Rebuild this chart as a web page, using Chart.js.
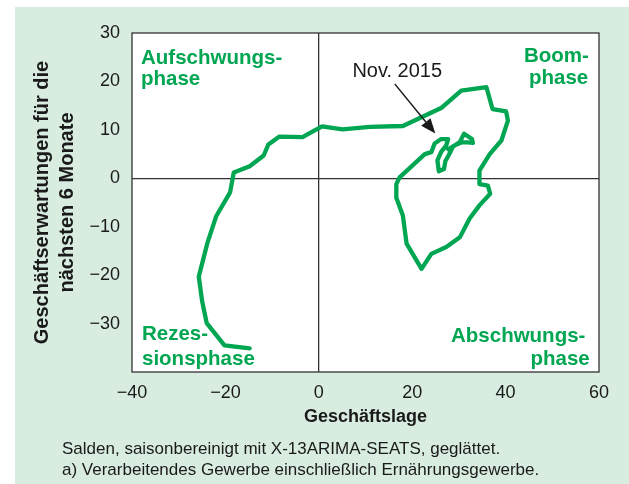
<!DOCTYPE html>
<html>
<head>
<meta charset="utf-8">
<script src="https://cdn.jsdelivr.net/npm/chart.js@4"></script>
<style>
  html, body { margin: 0; padding: 0; background: #ffffff; }
  #wrap { position: relative; width: 629px; height: 484px; overflow: hidden; }
  #panel { position: absolute; left: 15px; top: 7px; width: 614px; height: 477px; background: #d8ece0; }
  #c { position: absolute; left: 0; top: 0; }
  .note { position: absolute; left: 62px; font-family: "Liberation Sans", Arial, sans-serif; font-size: 17px; line-height: 21px; color: #1a1a1a; white-space: nowrap; }
</style>
</head>
<body>
<div id="wrap">
  <div id="panel"></div>
  <canvas id="c" width="629" height="484"></canvas>
  <div class="note" style="top:438px">Salden, saisonbereinigt mit X-13ARIMA-SEATS, geglättet.</div>
  <div class="note" style="top:459px">a) Verarbeitendes Gewerbe einschließlich Ernährungsgewerbe.</div>
</div>
<script>
// Geschäftslage (x) and Geschäftserwartungen (y), in time order
const geschaeftslage = [
  -14.8, -20.2, -24.0, -25.0, -25.7, -23.9, -22.0, -19.0, -18.2, -14.8,
  -11.8, -10.8, -8.5, -3.5, 0.7, 5.1, 10.9, 18.0, 26.2, 30.5,
  35.9, 37.2, 40.1, 40.5, 39.1, 36.6, 34.4, 34.4, 36.2, 36.7,
  34.4, 32.3, 30.2, 27.3, 24.1, 22.0, 18.8, 18.0, 16.6, 16.6,
  17.3, 22.7, 24.1, 24.8, 26.2, 27.7, 27.3, 26.2, 25.4, 25.7,
  26.8, 27.1, 28.0, 28.7, 30.2, 31.1, 32.8, 33.0, 31.9, 30.5,
  29.1, 27.7
];
const geschaeftserwartungen = [
  -35.1, -34.5, -29.9, -25.3, -20.3, -13.5, -7.9, -2.9, 1.2, 2.5,
  4.7, 7.0, 8.6, 8.5, 10.7, 10.1, 10.6, 10.8, 14.5, 18.1,
  18.8, 14.3, 13.8, 11.9, 7.8, 5.0, 1.6, -1.2, -1.5, -3.2,
  -5.6, -8.3, -12.2, -14.2, -15.6, -18.7, -13.5, -7.7, -4.0, -1.2,
  0.2, 5.0, 5.4, 7.2, 8.1, 8.1, 6.8, 5.45, 3.7, 1.45,
  1.9, 3.5, 5.1, 6.5, 7.5, 9.2, 8.1, 7.3, 7.4, 7.4,
  6.8, 6.0
];
const xTickValues = [-40, -20, 0, 20, 40, 60];
const yTickValues = [-30, -20, -10, 0, 10, 20, 30];
const xTitle = 'Geschäftslage';
const yTitle = ['Geschäftserwartungen für die', 'nächsten 6 Monate'];
const annotationText = 'Nov. 2015';
const annotationTextAt = [7.2, 21.0];
const arrowFrom = [16.26, 19.49];
const arrowTo = [24.96, 9.23];

const GREEN = '#00a651';
const DARK = '#1a1a1a';
const FONT = '"Liberation Sans", Arial, Helvetica, sans-serif';

function fmt(v) { return v < 0 ? '\u2212' + Math.abs(v) : String(v); }

const points = geschaeftslage.map((x, i) => ({ x: x, y: geschaeftserwartungen[i] }));

const decor = {
  id: 'decor',
  beforeDraw(chart) {
    const { ctx, chartArea: a } = chart;
    ctx.save();
    ctx.fillStyle = '#ffffff';
    ctx.fillRect(a.left, a.top, a.right - a.left, a.bottom - a.top);
    ctx.restore();
  },
  afterDraw(chart) {
    const { ctx, chartArea: a, scales } = chart;
    ctx.save();
    // frame
    ctx.strokeStyle = '#333333';
    ctx.lineWidth = 1.3;
    ctx.strokeRect(a.left, a.top, a.right - a.left, a.bottom - a.top);

    // quadrant labels
    ctx.fillStyle = GREEN;
    ctx.font = 'bold 20.5px ' + FONT;
    ctx.textAlign = 'left';
    ctx.textBaseline = 'alphabetic';
    ctx.fillText('Aufschwungs-', a.left + 9, a.top + 31);
    ctx.fillText('phase', a.left + 9, a.top + 52);
    ctx.fillText('Boom-', a.left + 392, a.top + 29);
    ctx.fillText('phase', a.left + 397, a.top + 51);
    ctx.fillText('Rezes-', a.left + 10, a.bottom - 32);
    ctx.fillText('sionsphase', a.left + 10, a.bottom - 7);
    ctx.fillText('Abschwungs-', a.left + 319, a.bottom - 30);
    ctx.fillText('phase', a.left + 398.5, a.bottom - 7);

    // annotation
    const sx = scales.x, sy = scales.y;
    ctx.fillStyle = DARK;
    ctx.font = '20px ' + FONT;
    ctx.fillText(annotationText, sx.getPixelForValue(annotationTextAt[0]), sy.getPixelForValue(annotationTextAt[1]));

    const x1 = sx.getPixelForValue(arrowFrom[0]), y1 = sy.getPixelForValue(arrowFrom[1]);
    const x2 = sx.getPixelForValue(arrowTo[0]), y2 = sy.getPixelForValue(arrowTo[1]);
    const ang = Math.atan2(y2 - y1, x2 - x1);
    const headLen = 15, headW = 6;
    const bx = x2 - headLen * Math.cos(ang), by = y2 - headLen * Math.sin(ang);
    ctx.strokeStyle = DARK;
    ctx.lineWidth = 1.5;
    ctx.beginPath();
    ctx.moveTo(x1, y1);
    ctx.lineTo(bx, by);
    ctx.stroke();
    ctx.beginPath();
    ctx.moveTo(x2, y2);
    ctx.lineTo(bx + headW * Math.sin(ang), by - headW * Math.cos(ang));
    ctx.lineTo(bx - headW * Math.sin(ang), by + headW * Math.cos(ang));
    ctx.closePath();
    ctx.fill();
    ctx.restore();
  }
};

new Chart(document.getElementById('c'), {
  type: 'scatter',
  data: {
    datasets: [{
      data: points,
      showLine: true,
      borderColor: GREEN,
      backgroundColor: GREEN,
      borderWidth: 4.3,
      pointRadius: 0,
      pointHoverRadius: 0,
      tension: 0,
      borderJoinStyle: 'round',
      borderCapStyle: 'round'
    }]
  },
  options: {
    responsive: false,
    animation: false,
    devicePixelRatio: 1,
    layout: { padding: { left: 0, top: 33, right: 30, bottom: 56 } },
    plugins: { legend: { display: false }, tooltip: { enabled: false } },
    scales: {
      x: {
        type: 'linear',
        min: -40, max: 60,
        afterBuildTicks(scale) { scale.ticks = xTickValues.map(v => ({ value: v })); },
        afterFit(scale) { scale.height = 56; },
        ticks: {
          padding: 10,
          color: DARK,
          font: { family: FONT, size: 18 },
          callback: v => fmt(v),
          maxRotation: 0
        },
        grid: {
          drawTicks: false,
          color: c => (c.tick && c.tick.value === 0) ? '#333333' : 'rgba(0,0,0,0)',
          lineWidth: 1.3
        },
        border: { display: false },
        title: {
          display: true,
          text: xTitle,
          color: DARK,
          font: { family: FONT, size: 18, weight: 'bold', lineHeight: 1.25 },
          padding: { top: 0, bottom: 0 }
        }
      },
      y: {
        type: 'linear',
        min: -40, max: 30,
        afterBuildTicks(scale) { scale.ticks = [-40].concat(yTickValues).map(v => ({ value: v })); },
        afterFit(scale) { scale.width = 132; },
        ticks: {
          padding: 12,
          color: DARK,
          font: { family: FONT, size: 18 },
          callback: v => (v === -40 ? '' : fmt(v))
        },
        grid: {
          drawTicks: false,
          color: c => (c.tick && c.tick.value === 0) ? '#333333' : 'rgba(0,0,0,0)',
          lineWidth: 1.3
        },
        border: { display: false },
        title: {
          display: true,
          text: yTitle,
          color: DARK,
          font: { family: FONT, size: 20, weight: 'bold', lineHeight: 1.25 },
          padding: { top: 30, bottom: 0 }
        }
      }
    }
  },
  plugins: [decor]
});
</script>
</body>
</html>
